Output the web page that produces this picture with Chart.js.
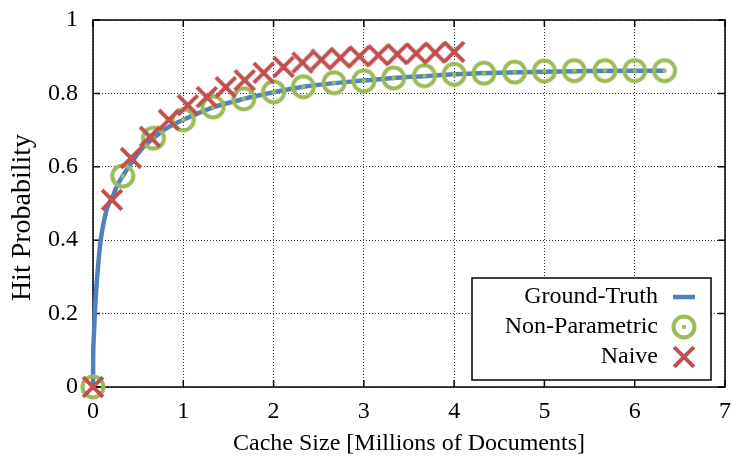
<!DOCTYPE html>
<html>
<head>
<meta charset="utf-8">
<script src="https://cdn.jsdelivr.net/npm/chart.js@4.4.0/dist/chart.umd.min.js"></script>
<style>
  html, body { margin: 0; padding: 0; background: #fff; }
</style>
</head>
<body>
<canvas id="chartHit" width="732" height="462"></canvas>
<script>
const gtX = [0, 0.002, 0.008, 0.02, 0.04, 0.06, 0.085, 0.12, 0.16, 0.21, 0.27, 0.33, 0.45, 0.55, 0.67, 0.8, 1.0, 1.33, 1.67, 2.0, 2.33, 2.67, 3.0, 3.33, 3.67, 4.0, 4.5, 5.0, 5.5, 6.0, 6.33];
const gtY = [0, 0.08, 0.13, 0.2, 0.28, 0.34, 0.4, 0.45, 0.49, 0.515, 0.55, 0.575, 0.62, 0.652, 0.678, 0.703, 0.728, 0.762, 0.785, 0.803, 0.818, 0.828, 0.835, 0.842, 0.847, 0.852, 0.856, 0.859, 0.861, 0.862, 0.862];

// non-parametric estimate
const npX = [0, 0.33, 0.67, 1, 1.33, 1.67, 2, 2.33, 2.67, 3, 3.33, 3.67, 4, 4.33, 4.67, 5, 5.33, 5.67, 6, 6.33];
const npY = [0, 0.575, 0.678, 0.728, 0.763, 0.785, 0.804, 0.818, 0.829, 0.834, 0.842, 0.848, 0.852, 0.855, 0.858, 0.861, 0.862, 0.862, 0.862, 0.862];

// naive estimate
const naiveX = [0, 0.21, 0.42, 0.63, 0.84, 1.05, 1.26, 1.47, 1.68, 1.89, 2.11, 2.32, 2.53, 2.74, 2.95, 3.16, 3.37, 3.58, 3.79, 4.0];
const naiveY = [0, 0.51, 0.624, 0.682, 0.728, 0.768, 0.79, 0.817, 0.836, 0.856, 0.872, 0.884, 0.892, 0.897, 0.901, 0.904, 0.907, 0.909, 0.911, 0.913];

const labels = ['Ground-Truth', 'Non-Parametric', 'Naive'];
const xTitle = 'Cache Size [Millions of Documents]';
const yTitle = 'Hit Probability';

const serif = '"Liberation Serif", "DejaVu Serif", serif';
const blue = '#4f81bd', green = '#9bbb59', red = '#c0504d';

const toPoints = (xs, ys) => xs.map((x, i) => ({ x: x, y: ys[i] }));

// marker images: ring with a dot, and a diagonal cross
// (drawn as images so the big markers don't push the plot box inward)
const ring = document.createElement('canvas');
ring.width = 30; ring.height = 30;
const rc = ring.getContext('2d');
rc.strokeStyle = green; rc.lineWidth = 4;
rc.beginPath(); rc.arc(15, 15, 10.5, 0, Math.PI * 2); rc.stroke();
rc.fillStyle = green;
rc.beginPath(); rc.arc(15, 15, 2.2, 0, Math.PI * 2); rc.fill();

const cross = document.createElement('canvas');
cross.width = 30; cross.height = 30;
const cc = cross.getContext('2d');
cc.strokeStyle = red; cc.lineWidth = 4;
cc.beginPath();
cc.moveTo(5.1, 5.1); cc.lineTo(24.9, 24.9);
cc.moveTo(5.1, 24.9); cc.lineTo(24.9, 5.1);
cc.stroke();

// drop the label overhang padding so the plot box lands where it should
const noPad = s => { s.paddingTop = 0; s.paddingBottom = 0; s.paddingLeft = 0; s.paddingRight = 0; };

// gnuplot-like frame with inward ticks on all four sides
const framePlugin = {
  id: 'frame',
  beforeDatasetsDraw(chart) {
    const { ctx, chartArea: a, scales: { x, y } } = chart;
    const tl = 7;
    ctx.save();
    ctx.strokeStyle = '#000';
    ctx.lineWidth = 1.5;
    ctx.strokeRect(a.left, a.top, a.right - a.left, a.bottom - a.top);
    ctx.beginPath();
    x.ticks.forEach(t => {
      const px = x.getPixelForValue(t.value);
      ctx.moveTo(px, a.bottom); ctx.lineTo(px, a.bottom - tl);
      ctx.moveTo(px, a.top); ctx.lineTo(px, a.top + tl);
    });
    y.ticks.forEach(t => {
      const py = y.getPixelForValue(t.value);
      ctx.moveTo(a.left, py); ctx.lineTo(a.left + tl, py);
      ctx.moveTo(a.right, py); ctx.lineTo(a.right - tl, py);
    });
    ctx.stroke();
    ctx.restore();
  }
};

const legendPlugin = {
  id: 'boxLegend',
  afterDraw(chart) {
    const { ctx, chartArea: a } = chart;
    const w = 239, h = 102;
    const left = a.right - 14 - w, top = a.bottom - 7 - h;
    ctx.save();
    ctx.fillStyle = '#fff';
    ctx.fillRect(left, top, w, h);
    ctx.strokeStyle = '#000';
    ctx.lineWidth = 1.5;
    ctx.strokeRect(left, top, w, h);
    ctx.font = '24px ' + serif;
    ctx.textAlign = 'right';
    ctx.textBaseline = 'middle';
    chart.data.datasets.forEach((ds, i) => {
      const cy = top + 19 + i * 30;
      const sx = left + 212;
      ctx.fillStyle = '#000';
      ctx.fillText(ds.label, left + 186, cy);
      if (ds.showLine) {
        ctx.strokeStyle = ds.borderColor;
        ctx.lineWidth = ds.borderWidth;
        ctx.beginPath(); ctx.moveTo(sx - 11, cy); ctx.lineTo(sx + 11, cy); ctx.stroke();
      } else {
        const img = ds.pointStyle;
        ctx.drawImage(img, sx - img.width / 2, cy - img.height / 2);
      }
    });
    ctx.restore();
  }
};

const ctx = document.getElementById('chartHit').getContext('2d');
new Chart(ctx, {
  type: 'scatter',
  data: {
    datasets: [
      {
        label: labels[0],
        data: toPoints(gtX, gtY),
        showLine: true,
        borderColor: blue,
        borderWidth: 4.5,
        pointRadius: 0,
        pointHoverRadius: 0,
        cubicInterpolationMode: 'monotone',
        clip: false,
        order: 3
      },
      {
        label: labels[1],
        data: toPoints(npX, npY),
        showLine: false,
        pointStyle: ring,
        pointRadius: 2,
        pointHoverRadius: 2,
        pointBorderWidth: 1,
        clip: false,
        order: 2
      },
      {
        label: labels[2],
        data: toPoints(naiveX, naiveY),
        showLine: false,
        pointStyle: cross,
        pointRadius: 2,
        pointHoverRadius: 2,
        pointBorderWidth: 1,
        clip: false,
        order: 1
      }
    ]
  },
  options: {
    responsive: false,
    animation: false,
    layout: { padding: { top: 20, right: 7, left: 0, bottom: 0 } },
    plugins: { legend: { display: false }, tooltip: { enabled: false } },
    scales: {
      x: {
        type: 'linear',
        min: 0,
        max: 7,
        afterFit: s => { s.height = 75; noPad(s); },
        ticks: { stepSize: 1, padding: 0, color: '#000', font: { family: serif, size: 24 } },
        grid: { color: '#333', lineWidth: 1, drawTicks: true, tickLength: 10, tickColor: 'rgba(0,0,0,0)' },
        border: { display: false, dash: [1, 2] },
        title: { display: true, text: xTitle, color: '#000', font: { family: serif, size: 24 }, padding: { top: 0, bottom: 4 } }
      },
      y: {
        min: 0,
        max: 1,
        afterFit: s => { s.width = 93; noPad(s); },
        ticks: {
          stepSize: 0.2, padding: 0, color: '#000', font: { family: serif, size: 24 },
          callback: v => String(Number(v.toFixed(1)))
        },
        grid: { color: '#333', lineWidth: 1, drawTicks: true, tickLength: 15, tickColor: 'rgba(0,0,0,0)' },
        border: { display: false, dash: [1, 2] },
        title: { display: true, text: yTitle + '\u00a0\u00a0\u00a0\u00a0', color: '#000', font: { family: serif, size: 28 }, padding: { top: 6, bottom: 0 } }
      }
    }
  },
  plugins: [framePlugin, legendPlugin]
});
</script>
</body>
</html>
